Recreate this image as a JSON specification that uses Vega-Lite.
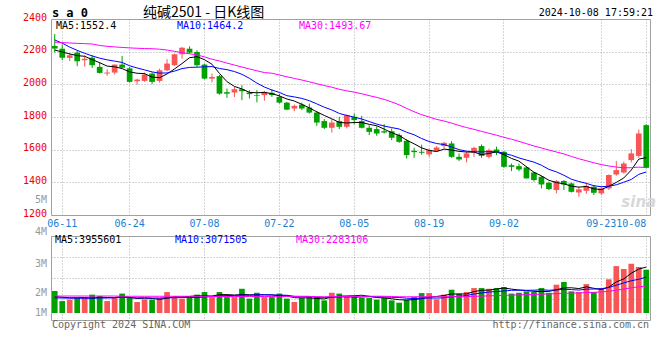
{
  "$schema": "https://vega.github.io/schema/vega-lite/v6.json",
  "autosize": {"type": "pad"},
  "padding": {"left": 22, "top": 5, "right": 5, "bottom": 5},
  "background": "white",
  "bounds": "flush",
  "spacing": 21,
  "config": {
    "view": {"stroke": "#a0a0a0", "strokeWidth": 1},
    "axis": {"domain": false, "ticks": false, "tickSize": 0, "title": null, "labelFont": "DejaVu Sans Mono", "labelFontSize": 10, "gridColor": "#aaaaaa", "gridDash": [1, 2], "gridWidth": 1, "labelOverlap": false, "labelBound": false},
    "text": {"font": "DejaVu Sans Mono", "fontSize": 10, "baseline": "middle", "align": "left"}
  },
  "datasets": {
    "k": [
{"date":"06-07","open":2235,"high":2308,"low":2194,"close":2219,"volume":1880000,"ma5":2210,"ma10":2272,"ma30":2258,"vma5":1400000,"vma10":1300000,"vma30":1450000},
{"date":"06-11","open":2218,"high":2243,"low":2148,"close":2163,"volume":1020000,"ma5":2198,"ma10":2252,"ma30":2256,"vma5":1350000,"vma10":1280000,"vma30":1450000},
{"date":"06-12","open":2162,"high":2192,"low":2143,"close":2178,"volume":1140000,"ma5":2186,"ma10":2228,"ma30":2253,"vma5":1300000,"vma10":1270000,"vma30":1450000},
{"date":"06-13","open":2194,"high":2209,"low":2111,"close":2141,"volume":1290000,"ma5":2176,"ma10":2208,"ma30":2251,"vma5":1300000,"vma10":1270000,"vma30":1450000},
{"date":"06-14","open":2148,"high":2178,"low":2108,"close":2157,"volume":1290000,"ma5":2171.6,"ma10":2190,"ma30":2249,"vma5":1324000,"vma10":1260000,"vma30":1450000},
{"date":"06-17","open":2163,"high":2178,"low":2100,"close":2117,"volume":1570000,"ma5":2151.2,"ma10":2174,"ma30":2247,"vma5":1262000,"vma10":1270000,"vma30":1450000},
{"date":"06-18","open":2107,"high":2137,"low":2066,"close":2070,"volume":1450000,"ma5":2132.6,"ma10":2160,"ma30":2238,"vma5":1348000,"vma10":1280000,"vma30":1450000},
{"date":"06-19","open":2066,"high":2092,"low":2052,"close":2072,"volume":1020000,"ma5":2111.4,"ma10":2150,"ma30":2233,"vma5":1324000,"vma10":1280000,"vma30":1450000},
{"date":"06-20","open":2072,"high":2121,"low":2060,"close":2121,"volume":1290000,"ma5":2107.4,"ma10":2142,"ma30":2229,"vma5":1324000,"vma10":1300000,"vma30":1450000},
{"date":"06-21","open":2121,"high":2174,"low":2100,"close":2102,"volume":1660000,"ma5":2096.4,"ma10":2134,"ma30":2226,"vma5":1398000,"vma10":1361000,"vma30":1430000},
{"date":"06-24","open":2098,"high":2107,"low":2011,"close":2015,"volume":1290000,"ma5":2076,"ma10":2113.6,"ma30":2223,"vma5":1342000,"vma10":1302000,"vma30":1430000},
{"date":"06-25","open":2019,"high":2035,"low":1998,"close":2029,"volume":940000,"ma5":2067.8,"ma10":2100.2,"ma30":2221,"vma5":1240000,"vma10":1294000,"vma30":1430000},
{"date":"06-26","open":2021,"high":2072,"low":2015,"close":2060,"volume":1170000,"ma5":2065.4,"ma10":2088.4,"ma30":2219,"vma5":1270000,"vma10":1297000,"vma30":1430000},
{"date":"06-27","open":2066,"high":2072,"low":2001,"close":2015,"volume":1140000,"ma5":2044.2,"ma10":2075.8,"ma30":2218,"vma5":1240000,"vma10":1282000,"vma30":1430000},
{"date":"06-28","open":2021,"high":2096,"low":2011,"close":2086,"volume":1290000,"ma5":2041,"ma10":2068.7,"ma30":2215,"vma5":1166000,"vma10":1282000,"vma30":1430000},
{"date":"07-01","open":2086,"high":2154,"low":2080,"close":2127,"volume":1790000,"ma5":2063.4,"ma10":2069.7,"ma30":2210,"vma5":1266000,"vma10":1304000,"vma30":1430000},
{"date":"07-02","open":2117,"high":2188,"low":2113,"close":2184,"volume":1450000,"ma5":2094.4,"ma10":2081.1,"ma30":2202,"vma5":1368000,"vma10":1304000,"vma30":1430000},
{"date":"07-03","open":2184,"high":2229,"low":2157,"close":2224,"volume":1230000,"ma5":2127.2,"ma10":2096.3,"ma30":2194,"vma5":1380000,"vma10":1325000,"vma30":1430000},
{"date":"07-04","open":2218,"high":2233,"low":2188,"close":2194,"volume":1310000,"ma5":2163,"ma10":2103.6,"ma30":2187,"vma5":1414000,"vma10":1327000,"vma30":1430000},
{"date":"07-05","open":2198,"high":2209,"low":2107,"close":2117,"volume":1570000,"ma5":2169.2,"ma10":2105.1,"ma30":2180,"vma5":1470000,"vma10":1318000,"vma30":1430000},
{"date":"07-08","open":2121,"high":2127,"low":2031,"close":2035,"volume":1790000,"ma5":2150.8,"ma10":2107.1,"ma30":2168,"vma5":1470000,"vma10":1368000,"vma30":1430000},
{"date":"07-09","open":2035,"high":2066,"low":2011,"close":2045,"volume":1360000,"ma5":2123,"ma10":2108.7,"ma30":2154,"vma5":1452000,"vma10":1410000,"vma30":1410000},
{"date":"07-10","open":2050,"high":2058,"low":1937,"close":1943,"volume":1790000,"ma5":2066.8,"ma10":2097,"ma30":2143,"vma5":1564000,"vma10":1472000,"vma30":1410000},
{"date":"07-11","open":1952,"high":1974,"low":1917,"close":1943,"volume":1360000,"ma5":2016.6,"ma10":2089.8,"ma30":2130,"vma5":1574000,"vma10":1494000,"vma30":1410000},
{"date":"07-12","open":1950,"high":1984,"low":1923,"close":1970,"volume":1360000,"ma5":1987.2,"ma10":2078.2,"ma30":2118,"vma5":1532000,"vma10":1501000,"vma30":1410000},
{"date":"07-15","open":1970,"high":1995,"low":1903,"close":1958,"volume":2070000,"ma5":1971.8,"ma10":2061.3,"ma30":2106,"vma5":1588000,"vma10":1529000,"vma30":1410000},
{"date":"07-16","open":1950,"high":1964,"low":1913,"close":1940,"volume":1230000,"ma5":1950.8,"ma10":2036.9,"ma30":2094,"vma5":1562000,"vma10":1507000,"vma30":1410000},
{"date":"07-17","open":1934,"high":1964,"low":1890,"close":1930,"volume":1730000,"ma5":1948.2,"ma10":2007.5,"ma30":2083,"vma5":1550000,"vma10":1557000,"vma30":1410000},
{"date":"07-18","open":1934,"high":1960,"low":1900,"close":1954,"volume":1360000,"ma5":1950.4,"ma10":1983.5,"ma30":2072,"vma5":1550000,"vma10":1562000,"vma30":1410000},
{"date":"07-19","open":1948,"high":1970,"low":1923,"close":1934,"volume":1360000,"ma5":1943.2,"ma10":1965.2,"ma30":2068.1,"vma5":1550000,"vma10":1541000,"vma30":1407000},
{"date":"07-22","open":1923,"high":1943,"low":1882,"close":1888,"volume":1660000,"ma5":1929.2,"ma10":1950.5,"ma30":2057.1,"vma5":1468000,"vma10":1528000,"vma30":1399000},
{"date":"07-23","open":1888,"high":1893,"low":1842,"close":1845,"volume":1230000,"ma5":1910.2,"ma10":1930.5,"ma30":2046.5,"vma5":1468000,"vma10":1515000,"vma30":1406000},
{"date":"07-24","open":1852,"high":1876,"low":1836,"close":1868,"volume":940000,"ma5":1897.8,"ma10":1923,"ma30":2036.1,"vma5":1310000,"vma10":1430000,"vma30":1400000},
{"date":"07-25","open":1876,"high":1888,"low":1842,"close":1852,"volume":1290000,"ma5":1877.4,"ma10":1913.9,"ma30":2026.5,"vma5":1296000,"vma10":1423000,"vma30":1400000},
{"date":"07-26","open":1858,"high":1882,"low":1821,"close":1827,"volume":1360000,"ma5":1856,"ma10":1899.6,"ma30":2015.5,"vma5":1296000,"vma10":1423000,"vma30":1402000},
{"date":"07-29","open":1827,"high":1836,"low":1746,"close":1766,"volume":1360000,"ma5":1831.6,"ma10":1880.4,"ma30":2003.8,"vma5":1236000,"vma10":1352000,"vma30":1395000},
{"date":"07-30","open":1775,"high":1787,"low":1726,"close":1734,"volume":1080000,"ma5":1809.4,"ma10":1859.8,"ma30":1992.6,"vma5":1206000,"vma10":1337000,"vma30":1383000},
{"date":"07-31","open":1734,"high":1787,"low":1705,"close":1766,"volume":1730000,"ma5":1789,"ma10":1843.4,"ma30":1982.4,"vma5":1364000,"vma10":1337000,"vma30":1406000},
{"date":"08-01","open":1775,"high":1801,"low":1726,"close":1740,"volume":1660000,"ma5":1766.6,"ma10":1822,"ma30":1969.7,"vma5":1438000,"vma10":1367000,"vma30":1419000},
{"date":"08-02","open":1740,"high":1815,"low":1730,"close":1811,"volume":1450000,"ma5":1763.4,"ma10":1809.7,"ma30":1960,"vma5":1456000,"vma10":1376000,"vma30":1412000},
{"date":"08-05","open":1801,"high":1821,"low":1754,"close":1781,"volume":1450000,"ma5":1766.4,"ma10":1799,"ma30":1952.2,"vma5":1474000,"vma10":1355000,"vma30":1417000},
{"date":"08-06","open":1775,"high":1807,"low":1730,"close":1734,"volume":1290000,"ma5":1766.4,"ma10":1787.9,"ma30":1942.4,"vma5":1516000,"vma10":1361000,"vma30":1429000},
{"date":"08-07","open":1734,"high":1750,"low":1689,"close":1709,"volume":1290000,"ma5":1755,"ma10":1772,"ma30":1930.7,"vma5":1428000,"vma10":1396000,"vma30":1433000},
{"date":"08-08","open":1726,"high":1744,"low":1685,"close":1699,"volume":1140000,"ma5":1746.8,"ma10":1756.7,"ma30":1920.1,"vma5":1324000,"vma10":1381000,"vma30":1433000},
{"date":"08-09","open":1713,"high":1756,"low":1699,"close":1705,"volume":1290000,"ma5":1725.6,"ma10":1744.5,"ma30":1907.4,"vma5":1292000,"vma10":1374000,"vma30":1433000},
{"date":"08-12","open":1713,"high":1730,"low":1658,"close":1673,"volume":1080000,"ma5":1704,"ma10":1735.2,"ma30":1892.3,"vma5":1218000,"vma10":1346000,"vma30":1409000},
{"date":"08-13","open":1689,"high":1699,"low":1642,"close":1648,"volume":880000,"ma5":1686.8,"ma10":1726.6,"ma30":1874.4,"vma5":1136000,"vma10":1326000,"vma30":1390000},
{"date":"08-14","open":1654,"high":1664,"low":1546,"close":1567,"volume":1140000,"ma5":1658.4,"ma10":1706.7,"ma30":1852.5,"vma5":1106000,"vma10":1267000,"vma30":1387000},
{"date":"08-15","open":1593,"high":1612,"low":1550,"close":1585,"volume":1360000,"ma5":1635.6,"ma10":1691.2,"ma30":1832.2,"vma5":1150000,"vma10":1237000,"vma30":1389000},
{"date":"08-16","open":1587,"high":1630,"low":1569,"close":1581,"volume":1700000,"ma5":1610.8,"ma10":1668.2,"ma30":1814.4,"vma5":1232000,"vma10":1262000,"vma30":1393000},
{"date":"08-19","open":1571,"high":1607,"low":1556,"close":1597,"volume":1700000,"ma5":1595.6,"ma10":1649.8,"ma30":1799.8,"vma5":1356000,"vma10":1287000,"vma30":1390000},
{"date":"08-20","open":1591,"high":1622,"low":1587,"close":1613,"volume":1170000,"ma5":1588.6,"ma10":1637.7,"ma30":1785.4,"vma5":1414000,"vma10":1275000,"vma30":1384000},
{"date":"08-21","open":1622,"high":1648,"low":1607,"close":1642,"volume":1570000,"ma5":1603.6,"ma10":1631,"ma30":1775.3,"vma5":1500000,"vma10":1303000,"vma30":1376000},
{"date":"08-22","open":1638,"high":1652,"low":1550,"close":1556,"volume":1990000,"ma5":1597.8,"ma10":1616.7,"ma30":1762.4,"vma5":1626000,"vma10":1388000,"vma30":1397000},
{"date":"08-23","open":1556,"high":1577,"low":1530,"close":1540,"volume":1660000,"ma5":1589.6,"ma10":1600.2,"ma30":1748.1,"vma5":1618000,"vma10":1425000,"vma30":1407000},
{"date":"08-26","open":1550,"high":1587,"low":1522,"close":1577,"volume":1790000,"ma5":1585.6,"ma10":1590.6,"ma30":1735.4,"vma5":1636000,"vma10":1496000,"vma30":1398000},
{"date":"08-27","open":1583,"high":1618,"low":1556,"close":1611,"volume":2130000,"ma5":1585.2,"ma10":1586.9,"ma30":1724.4,"vma5":1828000,"vma10":1621000,"vma30":1428000},
{"date":"08-28","open":1622,"high":1632,"low":1550,"close":1562,"volume":2130000,"ma5":1569.2,"ma10":1586.4,"ma30":1712.2,"vma5":1940000,"vma10":1720000,"vma30":1441000},
{"date":"08-29","open":1556,"high":1607,"low":1546,"close":1597,"volume":2070000,"ma5":1577.4,"ma10":1587.6,"ma30":1700.3,"vma5":1956000,"vma10":1791000,"vma30":1465000},
{"date":"08-30","open":1601,"high":1618,"low":1567,"close":1583,"volume":2130000,"ma5":1586,"ma10":1587.8,"ma30":1688.6,"vma5":2050000,"vma10":1834000,"vma30":1491000},
{"date":"09-02","open":1587,"high":1591,"low":1489,"close":1495,"volume":2220000,"ma5":1569.6,"ma10":1577.6,"ma30":1675.5,"vma5":2136000,"vma10":1886000,"vma30":1509000},
{"date":"09-03","open":1505,"high":1515,"low":1469,"close":1495,"volume":1660000,"ma5":1546.4,"ma10":1565.8,"ma30":1663.8,"vma5":2042000,"vma10":1935000,"vma30":1524000},
{"date":"09-04","open":1499,"high":1515,"low":1469,"close":1479,"volume":1730000,"ma5":1529.8,"ma10":1549.5,"ma30":1650.8,"vma5":1962000,"vma10":1951000,"vma30":1550000},
{"date":"09-05","open":1491,"high":1499,"low":1424,"close":1424,"volume":1850000,"ma5":1495.2,"ma10":1536.3,"ma30":1636.6,"vma5":1918000,"vma10":1937000,"vma30":1569000},
{"date":"09-06","open":1460,"high":1465,"low":1404,"close":1414,"volume":1790000,"ma5":1461.4,"ma10":1523.7,"ma30":1622.8,"vma5":1850000,"vma10":1950000,"vma30":1583000},
{"date":"09-09","open":1434,"high":1440,"low":1363,"close":1387,"volume":2130000,"ma5":1439.8,"ma10":1504.7,"ma30":1610.2,"vma5":1832000,"vma10":1984000,"vma30":1609000},
{"date":"09-10","open":1397,"high":1404,"low":1353,"close":1359,"volume":1730000,"ma5":1412.6,"ma10":1479.5,"ma30":1597.7,"vma5":1846000,"vma10":1944000,"vma30":1630000},
{"date":"09-11","open":1353,"high":1414,"low":1332,"close":1408,"volume":2420000,"ma5":1398.4,"ma10":1464.1,"ma30":1585.7,"vma5":1984000,"vma10":1973000,"vma30":1653000},
{"date":"09-12","open":1408,"high":1414,"low":1353,"close":1387,"volume":2650000,"ma5":1391,"ma10":1443.1,"ma30":1574,"vma5":2144000,"vma10":2031000,"vma30":1686000},
{"date":"09-13","open":1393,"high":1399,"low":1338,"close":1342,"volume":1850000,"ma5":1376.6,"ma10":1419,"ma30":1558.3,"vma5":2156000,"vma10":2003000,"vma30":1700000},
{"date":"09-18","open":1338,"high":1373,"low":1312,"close":1357,"volume":1790000,"ma5":1370.6,"ma10":1405.2,"ma30":1544.2,"vma5":2088000,"vma10":1960000,"vma30":1711000},
{"date":"09-19","open":1348,"high":1399,"low":1330,"close":1379,"volume":2470000,"ma5":1374.6,"ma10":1393.6,"ma30":1532.4,"vma5":2236000,"vma10":2041000,"vma30":1750000},
{"date":"09-20","open":1373,"high":1383,"low":1322,"close":1336,"volume":1790000,"ma5":1360.2,"ma10":1379.3,"ma30":1519.9,"vma5":2110000,"vma10":2047000,"vma30":1767000},
{"date":"09-23","open":1332,"high":1373,"low":1322,"close":1363,"volume":2130000,"ma5":1355.4,"ma10":1373.2,"ma30":1508.7,"vma5":2006000,"vma10":2075000,"vma30":1800000},
{"date":"09-24","open":1363,"high":1448,"low":1353,"close":1445,"volume":2880000,"ma5":1376,"ma10":1376.3,"ma30":1500.1,"vma5":2212000,"vma10":2184000,"vma30":1853000},
{"date":"09-25","open":1448,"high":1530,"low":1440,"close":1475,"volume":4010000,"ma5":1399.6,"ma10":1385.1,"ma30":1493.5,"vma5":2656000,"vma10":2372000,"vma30":1951000},
{"date":"09-26","open":1460,"high":1526,"low":1454,"close":1515,"volume":3760000,"ma5":1426.8,"ma10":1400.7,"ma30":1489,"vma5":2914000,"vma10":2575000,"vma30":2047000},
{"date":"09-27","open":1536,"high":1603,"low":1522,"close":1577,"volume":4210000,"ma5":1475,"ma10":1417.6,"ma30":1489.4,"vma5":3398000,"vma10":2754000,"vma30":2149000},
{"date":"09-30","open":1562,"high":1723,"low":1550,"close":1699,"volume":3930000,"ma5":1542.2,"ma10":1448.8,"ma30":1493.2,"vma5":3758000,"vma10":2882000,"vma30":2235000},
{"date":"10-08","open":1750,"high":1756,"low":1485,"close":1489,"volume":3700000,"ma5":1551,"ma10":1463.5,"ma30":1490.1,"vma5":3922000,"vma10":3067000,"vma30":2301000}
    ]
  },
  "vconcat": [
    {
      "width": 599,
      "height": 196,
      "data": {"name": "k"},
      "encoding": {
        "x": {
          "field": "date", "type": "ordinal",
          "scale": {"type": "band", "paddingInner": 0.24, "paddingOuter": 0.12},
          "axis": {
            "values": ["06-11", "06-24", "07-08", "07-22", "08-05", "08-19", "09-02", "09-23", "10-08"],
            "labelAngle": 0, "labelColor": "#1a7fd3", "labelPadding": 3, "labelBaseline": "top",
            "labelFlush": false, "labelOverlap": false,
            "labelAlign": {"condition": {"test": "datum.value == '10-08'", "value": "right"}, "value": "center"},
            "grid": true
          }
        }
      },
      "layer": [
        {
          "mark": {"type": "rule", "strokeWidth": 1},
          "encoding": {
            "y": {
              "field": "low", "type": "quantitative",
              "scale": {"domain": [1200, 2400], "nice": false, "zero": false},
              "axis": {
                "values": [1400, 1600, 1800, 2000, 2200],
                "labels": false,
                "grid": true
              }
            },
            "y2": {"field": "high"},
            "color": {"condition": {"test": "datum.close >= datum.open", "value": "#f85656"}, "value": "#00a000"}
          }
        },
        {
          "mark": {"type": "bar"},
          "encoding": {
            "y": {"field": "open", "type": "quantitative"},
            "y2": {"field": "close"},
            "color": {"condition": {"test": "datum.close >= datum.open", "value": "#f85656"}, "value": "#00a000"}
          }
        },
        {"mark": {"type": "line", "strokeWidth": 1, "color": "#000000"}, "encoding": {"y": {"field": "ma5", "type": "quantitative"}}},
        {"mark": {"type": "line", "strokeWidth": 1, "color": "#0000ff"}, "encoding": {"y": {"field": "ma10", "type": "quantitative"}}},
        {"mark": {"type": "line", "strokeWidth": 1, "color": "#ff00ff"}, "encoding": {"y": {"field": "ma30", "type": "quantitative"}}},
        {
          "data": {"values": [
            {"price": 2400, "label": "2400"},
            {"price": 2200, "label": "2200"},
            {"price": 2000, "label": "2000"},
            {"price": 1800, "label": "1800"},
            {"price": 1600, "label": "1600"},
            {"price": 1400, "label": "1400"},
            {"price": 1281, "label": "5M"},
            {"price": 1200, "label": "1200"}
          ]},
          "mark": {"type": "text", "align": "right", "dx": -4.9, "dy": -1.5},
          "encoding": {
            "x": {"datum": "06-07", "type": "ordinal", "bandPosition": 0},
            "y": {"field": "price", "type": "quantitative"},
            "text": {"field": "label"},
            "color": {"condition": {"test": "datum.label == '5M'", "value": "#999999"}, "value": "#ee0000"}
          }
        },
        {
          "data": {"values": [{}]},
          "mark": {"type": "text", "text": "s a 0", "fontWeight": "bold", "fontSize": 12, "color": "#000000"},
          "encoding": {"x": {"datum": "06-07", "type": "ordinal", "bandPosition": 0}, "y": {"datum": 2434, "type": "quantitative"}}
        },
        {
          "data": {"values": [{}]},
          "mark": {"type": "text", "text": "纯碱2501 - 日K线图", "font": "Noto Sans CJK SC", "fontSize": 14, "color": "#000000"},
          "encoding": {"x": {"datum": "06-26", "type": "ordinal", "bandPosition": 0.22}, "y": {"datum": 2434, "type": "quantitative"}}
        },
        {
          "data": {"values": [{}]},
          "mark": {"type": "text", "text": "2024-10-08 17:59:21", "align": "right", "color": "#000000"},
          "encoding": {"x": {"datum": "10-08", "type": "ordinal", "bandPosition": 1.69}, "y": {"datum": 2434, "type": "quantitative"}}
        },
        {
          "data": {"values": [{}]},
          "mark": {"type": "text", "text": "MA5:1552.4", "color": "#000000"},
          "encoding": {"x": {"datum": "06-07", "type": "ordinal", "bandPosition": 0.72}, "y": {"datum": 2357, "type": "quantitative"}}
        },
        {
          "data": {"values": [{}]},
          "mark": {"type": "text", "text": "MA10:1464.2", "color": "#0000ff"},
          "encoding": {"x": {"datum": "07-02", "type": "ordinal", "bandPosition": 0.93}, "y": {"datum": 2357, "type": "quantitative"}}
        },
        {
          "data": {"values": [{}]},
          "mark": {"type": "text", "text": "MA30:1493.67", "color": "#ff00ff"},
          "encoding": {"x": {"datum": "07-25", "type": "ordinal", "bandPosition": 0}, "y": {"datum": 2357, "type": "quantitative"}}
        },
        {
          "data": {"values": [{}]},
          "mark": {"type": "text", "text": "sina", "align": "center", "font": "DejaVu Sans", "fontSize": 15, "fontWeight": "bold", "fontStyle": "italic", "color": "#d8d8d8"},
          "encoding": {"x": {"datum": "09-30", "type": "ordinal"}, "y": {"datum": 1281, "type": "quantitative"}}
        }
      ]
    },
    {
      "width": 599,
      "height": 84,
      "data": {"name": "k"},
      "encoding": {
        "x": {
          "field": "date", "type": "ordinal",
          "scale": {"type": "band", "paddingInner": 0.24, "paddingOuter": 0.12},
          "axis": {
            "values": ["06-11", "06-24", "07-08", "07-22", "08-05", "08-19", "09-02", "09-23", "10-08"],
            "labels": false, "grid": true
          }
        }
      },
      "layer": [
        {
          "mark": {"type": "bar"},
          "encoding": {
            "y": {
              "field": "volume", "type": "quantitative",
              "scale": {"domain": [-598000, 6581000], "nice": false, "zero": false},
              "axis": {
                "values": [4786000, 2991000, 1197000],
                "labels": false,
                "grid": true
              }
            },
            "y2": {"datum": 0},
            "color": {"condition": {"test": "datum.close >= datum.open", "value": "#f85656"}, "value": "#00a000"}
          }
        },
        {"mark": {"type": "line", "strokeWidth": 1, "color": "#000000"}, "encoding": {"y": {"field": "vma5", "type": "quantitative"}}},
        {"mark": {"type": "line", "strokeWidth": 1, "color": "#0000ff"}, "encoding": {"y": {"field": "vma10", "type": "quantitative"}}},
        {"mark": {"type": "line", "strokeWidth": 1, "color": "#ff00ff"}, "encoding": {"y": {"field": "vma30", "type": "quantitative"}}},
        {
          "data": {"values": [
            {"volume": 6923000, "label": "4M"},
            {"volume": 4210000, "label": "3M"},
            {"volume": 1710000, "label": "2M"},
            {"volume": 30000, "label": "1M"}
          ]},
          "mark": {"type": "text", "align": "right", "dx": -4.9, "color": "#999999"},
          "encoding": {
            "x": {"datum": "06-07", "type": "ordinal", "bandPosition": 0},
            "y": {"field": "volume", "type": "quantitative"},
            "text": {"field": "label"}
          }
        },
        {
          "data": {"values": [{}]},
          "mark": {"type": "text", "text": "MA5:3955601", "color": "#000000"},
          "encoding": {"x": {"datum": "06-07", "type": "ordinal", "bandPosition": 0.55}, "y": {"datum": 6239000, "type": "quantitative"}}
        },
        {
          "data": {"values": [{}]},
          "mark": {"type": "text", "text": "MA10:3071505", "color": "#0000ff"},
          "encoding": {"x": {"datum": "07-02", "type": "ordinal", "bandPosition": 0.58}, "y": {"datum": 6239000, "type": "quantitative"}}
        },
        {
          "data": {"values": [{}]},
          "mark": {"type": "text", "text": "MA30:2283106", "color": "#ff00ff"},
          "encoding": {"x": {"datum": "07-24", "type": "ordinal", "bandPosition": 0.79}, "y": {"datum": 6239000, "type": "quantitative"}}
        },
        {
          "data": {"values": [{}]},
          "mark": {"type": "text", "text": "Copyright 2024 SINA.COM", "color": "#666666"},
          "encoding": {"x": {"datum": "06-07", "type": "ordinal", "bandPosition": 0}, "y": {"datum": -1068000, "type": "quantitative"}}
        },
        {
          "data": {"values": [{}]},
          "mark": {"type": "text", "text": "http://finance.sina.com.cn", "align": "right", "color": "#666666"},
          "encoding": {"x": {"datum": "10-08", "type": "ordinal", "bandPosition": 1}, "y": {"datum": -1068000, "type": "quantitative"}}
        }
      ]
    }
  ]
}
